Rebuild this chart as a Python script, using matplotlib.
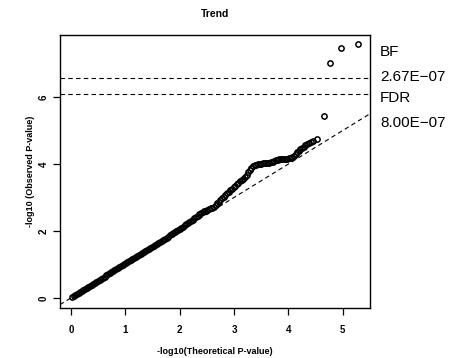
import numpy as np
import matplotlib
matplotlib.use('Agg')
import matplotlib.pyplot as plt

plt.rcParams['font.family'] = ['Liberation Sans', 'DejaVu Sans']

# expected vs observed -log10(p)
theo = [0.02, 0.05, 0.08, 0.11, 0.14, 0.17, 0.20, 0.23, 0.26, 0.29,
        0.32, 0.35, 0.38, 0.41, 0.44, 0.47, 0.50, 0.53, 0.56, 0.59,
        0.62, 0.65, 0.68, 0.71, 0.74, 0.77, 0.80, 0.83, 0.86, 0.89,
        0.92, 0.95, 0.98, 1.01, 1.04, 1.07, 1.10, 1.13, 1.16, 1.19,
        1.22, 1.25, 1.28, 1.31, 1.34, 1.37, 1.40, 1.43, 1.46, 1.49,
        1.52, 1.55, 1.58, 1.61, 1.64, 1.67, 1.70, 1.73, 1.76, 1.79,
        1.82, 1.85, 1.88, 1.91, 1.94, 1.97,
        2.00, 2.03, 2.06, 2.09, 2.12, 2.15, 2.18, 2.21, 2.24, 2.27,
        2.30, 2.33, 2.36, 2.39, 2.42, 2.45, 2.48, 2.51, 2.54, 2.57,
        2.60, 2.63, 2.66, 2.69, 2.72, 2.75, 2.78, 2.81, 2.84, 2.87,
        2.90, 2.93, 2.96, 2.99, 3.02, 3.05, 3.08, 3.11, 3.14, 3.17,
        3.20, 3.23, 3.26,
        3.29, 3.32, 3.35, 3.38, 3.41, 3.44, 3.47, 3.50, 3.53, 3.56,
        3.59, 3.62, 3.65, 3.68, 3.71, 3.74, 3.77, 3.80, 3.83, 3.86,
        3.89, 3.92, 3.95, 3.98, 4.01, 4.04, 4.07, 4.10, 4.13, 4.16,
        4.19, 4.22, 4.25, 4.28, 4.31, 4.34, 4.37,
        4.41, 4.46, 4.53, 4.66, 4.77, 4.96, 5.27]
obs = [0.02, 0.05, 0.08, 0.11, 0.14, 0.17, 0.20, 0.23, 0.27, 0.30,
       0.33, 0.36, 0.39, 0.42, 0.45, 0.48, 0.51, 0.54, 0.57, 0.60,
       0.64, 0.67, 0.70, 0.73, 0.76, 0.79, 0.82, 0.85, 0.88, 0.91,
       0.94, 0.97, 1.00, 1.04, 1.07, 1.10, 1.13, 1.16, 1.19, 1.22,
       1.25, 1.28, 1.31, 1.34, 1.37, 1.40, 1.43, 1.46, 1.49, 1.52,
       1.55, 1.58, 1.61, 1.65, 1.68, 1.71, 1.74, 1.77, 1.80, 1.83,
       1.87, 1.90, 1.93, 1.96, 1.99, 2.03,
       2.06, 2.10, 2.13, 2.17, 2.20, 2.24, 2.27, 2.31, 2.34, 2.38,
       2.42, 2.46, 2.50, 2.53, 2.56, 2.59, 2.61, 2.63, 2.66, 2.68,
       2.70, 2.73, 2.77, 2.82, 2.87, 2.92, 2.97, 3.02, 3.07, 3.12,
       3.17, 3.21, 3.26, 3.30, 3.35, 3.40, 3.44, 3.48, 3.52, 3.56,
       3.62, 3.68, 3.75,
       3.83, 3.89, 3.93, 3.96, 3.98, 4.00, 4.01, 4.01, 4.02, 4.02,
       4.03, 4.03, 4.04, 4.05, 4.07, 4.09, 4.11, 4.13, 4.14, 4.15,
       4.15, 4.16, 4.16, 4.16, 4.17, 4.17, 4.20, 4.25, 4.30, 4.35,
       4.40, 4.44, 4.48, 4.52, 4.56, 4.60, 4.63,
       4.66, 4.70, 4.74, 5.43, 7.01, 7.47, 7.58]

# significance thresholds
thr_names = ['BF', 'FDR']
thr_pvals = [2.67e-07, 8.00e-07]
thr_labels = ['2.67E\u221207', '8.00E\u221207']

fig = plt.figure(figsize=(4.62, 3.58), dpi=100)
ax = fig.add_axes([0.1299, 0.1397, 0.671, 0.7625])

ax.plot(theo, obs, 'o', mfc='none', mec='k', ms=3.8, mew=1.1)
ax.axline((0, 0), slope=1, color='k', lw=0.8, ls=(0, (4, 3)))
for p in thr_pvals:
    ax.axhline(-np.log10(p), color='k', lw=0.8, ls=(0, (4, 3)))

ax.set_xlim(-0.2, 5.5)
ax.set_ylim(-0.3, 7.85)
ax.set_xticks([0, 1, 2, 3, 4, 5])
ax.set_yticks([0, 2, 4, 6])
ax.tick_params(direction='out', length=5, width=0.9, labelsize=7)
ax.tick_params(axis='x', pad=7)
ax.tick_params(axis='y', pad=3)
for lab in ax.get_xticklabels() + ax.get_yticklabels():
    lab.set_fontweight('bold')
for lab in ax.get_yticklabels():
    lab.set_rotation(90)
    lab.set_va('center')
for s in ax.spines.values():
    s.set_linewidth(1.0)

ax.set_xlabel('-log10(Theoretical P-value)', fontsize=6.5, fontweight='bold', labelpad=9)
ax.set_ylabel('-log10 (Observed P-value)', fontsize=6.5, fontweight='bold', labelpad=3)
fig.text(0.465, 0.962, 'Trend', fontsize=7.5, fontweight='bold', ha='center', va='center')

# threshold labels to the right of the plot
ypos = [1 - 51.7 / 358, 1 - 76.7 / 358, 1 - 98.3 / 358, 1 - 123.3 / 358]
texts = [thr_names[0], thr_labels[0], thr_names[1], thr_labels[1]]
for t, yy in zip(texts, ypos):
    fig.text(380 / 462, yy, t, fontsize=11, ha='left', va='center')

fig.savefig('out.png', dpi=100)
